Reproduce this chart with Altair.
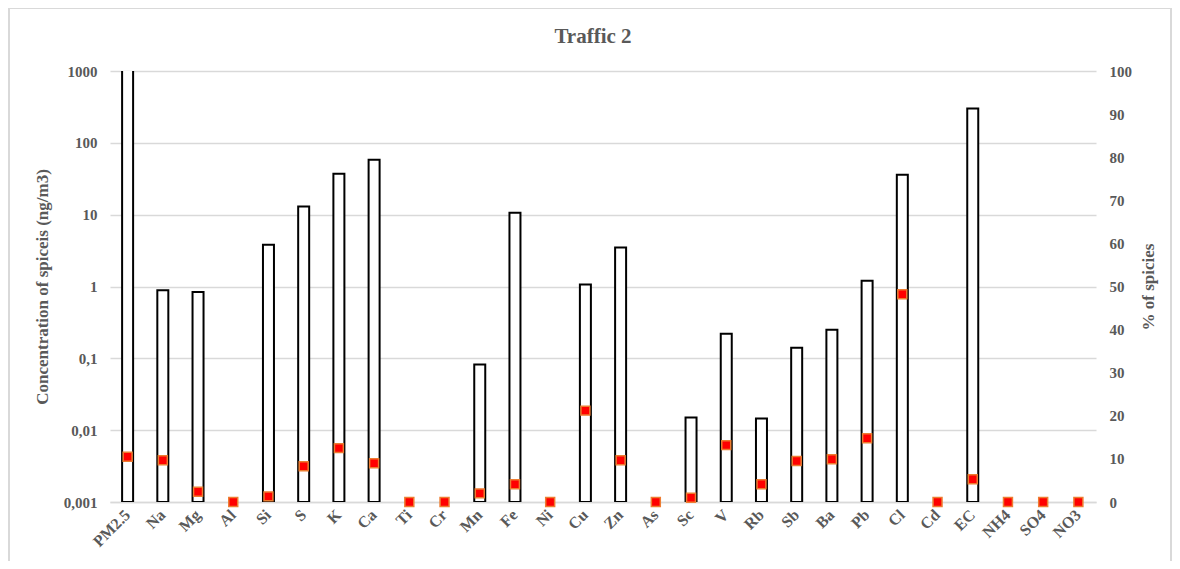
import altair as alt
import pandas as pd

categories = ["PM2.5", "Na", "Mg", "Al", "Si", "S", "K", "Ca", "Ti", "Cr", "Mn", "Fe", "Ni",
              "Cu", "Zn", "As", "Sc", "V", "Rb", "Sb", "Ba", "Pb", "Cl", "Cd", "EC", "NH4", "SO4", "NO3"]
concentration = [1200, 0.89, 0.84, None, 3.8, 13, 37, 58, None, None, 0.082, 10.6, None,
                 1.07, 3.5, None, 0.015, 0.22, 0.0145, 0.14, 0.25, 1.2, 36, None, 300, None, None, None]
percent = [10.5, 9.7, 2.4, 0, 1.3, 8.3, 12.5, 9.0, 0, 0, 2.0, 4.1, 0,
           21.2, 9.7, 0, 1.0, 13.2, 4.1, 9.5, 9.9, 14.8, 48.2, 0, 5.3, 0, 0, 0]
title_text = "Traffic 2"

df = pd.DataFrame({"cat": categories, "conc": concentration, "pct": percent})
df["base"] = 0.001
one = pd.DataFrame({"t": [title_text]})

GRAY = "#595959"
FONT = "Liberation Serif"

xenc = alt.X("cat:N", sort=categories, title=None,
             scale=alt.Scale(paddingInner=0, paddingOuter=0),
             axis=alt.Axis(labelAngle=-45, labelAlign="right", labelBaseline="middle",
                           labelFontSize=16, labelFont=FONT, labelFontWeight="bold",
                           labelColor=GRAY, labelPadding=10, ticks=False,
                           domainColor="#d9d9d9", domainWidth=1.5))

bars = alt.Chart(df).transform_filter("datum.conc != null").mark_bar(
    fill="white", stroke="black", strokeWidth=2, width=11, clip=True
).encode(
    x=xenc,
    y=alt.Y("conc:Q", scale=alt.Scale(type="log", domain=[0.001, 1000]),
            title="Concentration of spiceis (ng/m3)",
            axis=alt.Axis(values=[0.001, 0.01, 0.1, 1, 10, 100, 1000],
                          labelExpr="datum.value >= 1 ? format(datum.value, 'd') : replace(format(datum.value, '~g'), '.', ',')",
                          grid=True, gridColor="#d9d9d9", gridWidth=1.5, domain=False, ticks=False,
                          labelFontSize=15, labelFont=FONT, labelFontWeight="bold", labelColor=GRAY,
                          labelPadding=13, titleFontSize=17, titleFont=FONT, titleFontWeight="bold",
                          titleColor=GRAY, titlePadding=12)),
    y2="base:Q",
)

points = alt.Chart(df).mark_square(
    size=80, fill="#ff0000", stroke="#ed7d31", strokeWidth=1.5, opacity=1
).encode(
    x=alt.X("cat:N", sort=categories),
    y=alt.Y("pct:Q", scale=alt.Scale(domain=[0, 100]), title="% of spicies",
            axis=alt.Axis(orient="right", values=list(range(0, 101, 10)), grid=False,
                          domain=False, ticks=False,
                          labelFontSize=15, labelFont=FONT, labelFontWeight="bold", labelColor=GRAY,
                          labelPadding=13, titleFontSize=17, titleFont=FONT, titleFontWeight="bold",
                          titleColor=GRAY, titlePadding=26, titleAngle=270)),
)

title = alt.Chart(one).mark_text(
    font=FONT, fontSize=21, fontWeight="bold", color=GRAY, align="center", baseline="alphabetic"
).encode(x=alt.value(483), y=alt.value(-28), text="t:N")

frame_top = alt.Chart(one).mark_rule(color="#d9d9d9", strokeWidth=2).encode(
    x=alt.value(-101), x2=alt.value(1061), y=alt.value(-63))
frame_left = alt.Chart(one).mark_rule(color="#d9d9d9", strokeWidth=2).encode(
    x=alt.value(-101), y=alt.value(-63), y2=alt.value(600))
frame_right = alt.Chart(one).mark_rule(color="#d9d9d9", strokeWidth=2).encode(
    x=alt.value(1061), y=alt.value(-63), y2=alt.value(600))

chart = alt.layer(bars, points, title, frame_top, frame_left, frame_right).resolve_scale(
    y="independent"
).properties(
    width=986, height=431,
    autosize=alt.AutoSizeParams(type="none"),
    padding={"left": 102, "top": 63, "right": 76, "bottom": 59},
).configure_view(stroke=None)

chart.save("out.html", embed_options={"renderer": "svg", "actions": False})
